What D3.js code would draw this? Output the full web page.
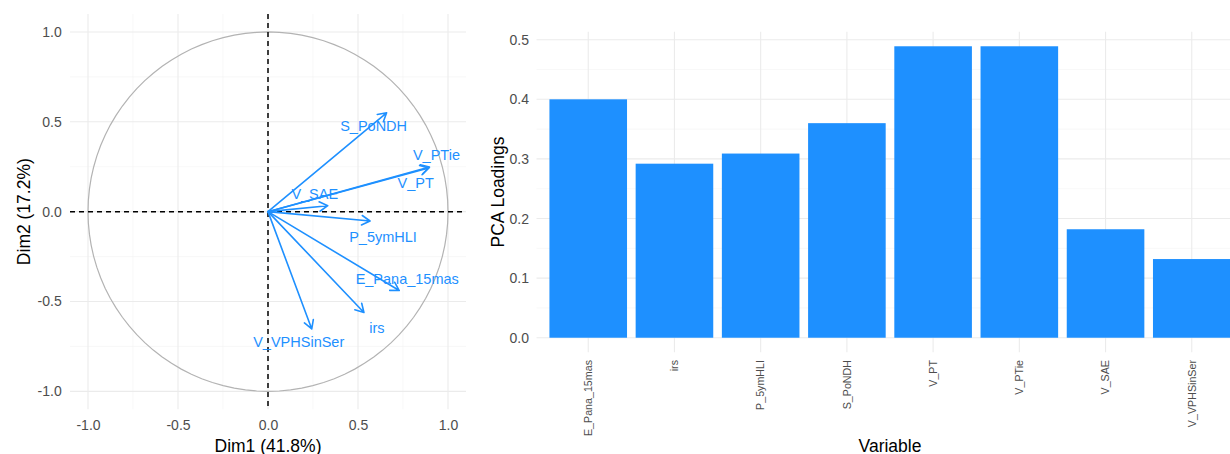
<!DOCTYPE html>
<html>
<head>
<meta charset="utf-8">
<script src="https://cdn.jsdelivr.net/npm/d3@7"></script>
<style>
  html, body { margin: 0; padding: 0; background: #fff; }
  svg { display: block; font-family: "Liberation Sans", Arial, sans-serif; }
</style>
</head>
<body>
<svg id="chart" width="1230" height="454"></svg>
<script>
// Variables in the PCA
const variables = ["E_Pana_15mas", "irs", "P_5ymHLI", "S_PoNDH", "V_PT", "V_PTie", "V_SAE", "V_VPHSinSer"];
// Correlation of each variable with the first two dimensions
const dim1 = [0.729, 0.533, 0.567, 0.659, 0.893, 0.897, 0.332, 0.243];
const dim2 = [-0.439, -0.561, -0.052, 0.550, 0.243, 0.248, 0.033, -0.653];
// Loadings on the first component
const loadings = [0.400, 0.292, 0.309, 0.360, 0.489, 0.489, 0.182, 0.132];
// Axis ticks
const circleTicks = [-1, -0.5, 0, 0.5, 1];
const circleMinor = [-0.75, -0.25, 0.25, 0.75];
const loadingTicks = [0, 0.1, 0.2, 0.3, 0.4, 0.5];
const loadingMinor = [0.05, 0.15, 0.25, 0.35, 0.45];
const axisTitles = { dim1: "Dim1 (41.8%)", dim2: "Dim2 (17.2%)", variable: "Variable", loadings: "PCA Loadings" };

const BLUE = "#1E90FF";
const GRID = "#ebebeb";
const GRID_MINOR = "#f4f4f4";
const TICK_TEXT = "#4d4d4d";

// Label placement around each arrow tip (pixels, text centre)
const labelOffset = {
  "S_PoNDH": [-13, 13], "V_PTie": [7, -12], "V_PT": [-13, 15], "V_SAE": [-13, -12],
  "P_5ymHLI": [13, 16], "E_Pana_15mas": [8, -12], "irs": [13, 15], "V_VPHSinSer": [-13, 13]
};

const svg = d3.select("#chart");

/* ---------------- Correlation circle ---------------- */
const cx = d3.scaleLinear([-1.1, 1.1], [70, 466]);
const cy = d3.scaleLinear([-1.1, 1.1], [409.3, 14]);
const left = svg.append("g");

// grid
const gl = left.append("g");
gl.selectAll(".vminor").data(circleMinor).join("line")
  .attr("x1", d => cx(d)).attr("x2", d => cx(d)).attr("y1", cy.range()[1]).attr("y2", cy.range()[0])
  .attr("stroke", GRID_MINOR).attr("stroke-width", 0.6);
gl.selectAll(".hminor").data(circleMinor).join("line")
  .attr("y1", d => cy(d)).attr("y2", d => cy(d)).attr("x1", cx.range()[0]).attr("x2", cx.range()[1])
  .attr("stroke", GRID_MINOR).attr("stroke-width", 0.6);
gl.selectAll(".vmajor").data(circleTicks).join("line")
  .attr("x1", d => cx(d)).attr("x2", d => cx(d)).attr("y1", cy.range()[1]).attr("y2", cy.range()[0])
  .attr("stroke", GRID).attr("stroke-width", 1.1);
gl.selectAll(".hmajor").data(circleTicks).join("line")
  .attr("y1", d => cy(d)).attr("y2", d => cy(d)).attr("x1", cx.range()[0]).attr("x2", cx.range()[1])
  .attr("stroke", GRID).attr("stroke-width", 1.1);

// unit circle
const circlePts = d3.range(0, 101).map(i => {
  const a = i / 100 * 2 * Math.PI;
  return [Math.cos(a), Math.sin(a)];
});
left.append("path")
  .attr("d", d3.line().x(d => cx(d[0])).y(d => cy(d[1]))(circlePts))
  .attr("fill", "none").attr("stroke", "#b3b3b3").attr("stroke-width", 1.2);

// reference lines
left.append("line").attr("x1", cx.range()[0]).attr("x2", cx.range()[1]).attr("y1", cy(0)).attr("y2", cy(0))
  .attr("stroke", "#000").attr("stroke-width", 1.5).attr("stroke-dasharray", "5,4");
left.append("line").attr("y1", cy.range()[1]).attr("y2", cy.range()[0]).attr("x1", cx(0)).attr("x2", cx(0))
  .attr("stroke", "#000").attr("stroke-width", 1.5).attr("stroke-dasharray", "5,4");

// arrows
const vecs = variables.map((v, i) => ({ name: v, x: dim1[i], y: dim2[i] }));
const headLen = 9.5, headAng = Math.PI / 6;
const arrows = left.append("g").attr("stroke", BLUE).attr("stroke-width", 1.6).attr("fill", "none")
  .attr("stroke-linecap", "round").attr("stroke-linejoin", "round");
arrows.selectAll("path").data(vecs).join("path")
  .attr("d", d => {
    const x0 = cx(0), y0 = cy(0), x1 = cx(d.x), y1 = cy(d.y);
    const ang = Math.atan2(y1 - y0, x1 - x0);
    const ax = x1 - headLen * Math.cos(ang - headAng), ay = y1 - headLen * Math.sin(ang - headAng);
    const bx = x1 - headLen * Math.cos(ang + headAng), by = y1 - headLen * Math.sin(ang + headAng);
    return `M${x0},${y0}L${x1},${y1}M${ax},${ay}L${x1},${y1}L${bx},${by}`;
  });
left.append("g").selectAll("text").data(vecs).join("text")
  .attr("x", d => cx(d.x) + labelOffset[d.name][0])
  .attr("y", d => cy(d.y) + labelOffset[d.name][1])
  .attr("text-anchor", "middle").attr("dy", "0.36em")
  .attr("font-size", 14.5).attr("fill", BLUE)
  .text(d => d.name);

// axes
const fmt1 = d3.format(".1f");
const axL = left.append("g").attr("transform", `translate(${cx.range()[0]},0)`)
  .call(d3.axisLeft(cy).tickValues(circleTicks).tickFormat(d => fmt1(d).replace("−", "-")).tickSize(0).tickPadding(8.3));
const axB = left.append("g").attr("transform", `translate(0,${cy.range()[0]})`)
  .call(d3.axisBottom(cx).tickValues(circleTicks).tickFormat(d => fmt1(d).replace("−", "-")).tickSize(0).tickPadding(10.5));
[axL, axB].forEach(a => {
  a.select(".domain").remove();
  a.selectAll("text").attr("font-size", 14).attr("fill", TICK_TEXT).attr("font-family", null);
});
left.append("text").attr("x", (cx.range()[0] + cx.range()[1]) / 2).attr("y", 451.5)
  .attr("text-anchor", "middle").attr("font-size", 17.5).attr("fill", "#000").text(axisTitles.dim1);
left.append("text").attr("transform", `translate(29.5,${cy(0)}) rotate(-90)`)
  .attr("text-anchor", "middle").attr("font-size", 17.5).attr("fill", "#000").text(axisTitles.dim2);

/* ---------------- Loadings bar chart ---------------- */
const bx = d3.scaleBand(variables, [536.5, 1243.5]).paddingInner(0.1).paddingOuter(0.15);
const maxL = d3.max(loadings);
const by = d3.scaleLinear([-0.05 * maxL, maxL * 1.05], [352.3, 31.7]);
const right = svg.append("g");

const gr = right.append("g");
gr.selectAll(".hminor").data(loadingMinor).join("line")
  .attr("y1", d => by(d)).attr("y2", d => by(d)).attr("x1", bx.range()[0]).attr("x2", bx.range()[1])
  .attr("stroke", GRID_MINOR).attr("stroke-width", 0.6);
gr.selectAll(".hmajor").data(loadingTicks).join("line")
  .attr("y1", d => by(d)).attr("y2", d => by(d)).attr("x1", bx.range()[0]).attr("x2", bx.range()[1])
  .attr("stroke", GRID).attr("stroke-width", 1.1);
gr.selectAll(".vmajor").data(variables).join("line")
  .attr("x1", d => bx(d) + bx.bandwidth() / 2).attr("x2", d => bx(d) + bx.bandwidth() / 2)
  .attr("y1", by.range()[1]).attr("y2", by.range()[0])
  .attr("stroke", GRID).attr("stroke-width", 1.1);

right.append("g").selectAll("rect").data(variables).join("rect")
  .attr("x", d => bx(d)).attr("width", bx.bandwidth())
  .attr("y", (d, i) => by(loadings[i])).attr("height", (d, i) => by(0) - by(loadings[i]))
  .attr("fill", BLUE);

const axR = right.append("g").attr("transform", `translate(${bx.range()[0]},0)`)
  .call(d3.axisLeft(by).tickValues(loadingTicks).tickFormat(fmt1).tickSize(0).tickPadding(7.5));
axR.select(".domain").remove();
axR.selectAll("text").attr("font-size", 14).attr("fill", TICK_TEXT).attr("font-family", null);

const axX = right.append("g").attr("transform", `translate(0,${by.range()[0]})`)
  .call(d3.axisBottom(bx).tickSize(0).tickPadding(0));
axX.select(".domain").remove();
axX.selectAll("text")
  .attr("font-size", 10.7).attr("fill", TICK_TEXT).attr("font-family", null)
  .attr("text-anchor", "end").attr("y", 0).attr("x", 0).attr("dy", "0.35em")
  .attr("transform", "translate(0,7.7) rotate(-90)");

right.append("text").attr("x", (bx.range()[0] + bx.range()[1]) / 2).attr("y", 451.5)
  .attr("text-anchor", "middle").attr("font-size", 17.5).attr("fill", "#000").text(axisTitles.variable);
right.append("text").attr("transform", `translate(503.5,${(by.range()[0] + by.range()[1]) / 2}) rotate(-90)`)
  .attr("text-anchor", "middle").attr("font-size", 17.5).attr("fill", "#000").text(axisTitles.loadings);
</script>
</body>
</html>
